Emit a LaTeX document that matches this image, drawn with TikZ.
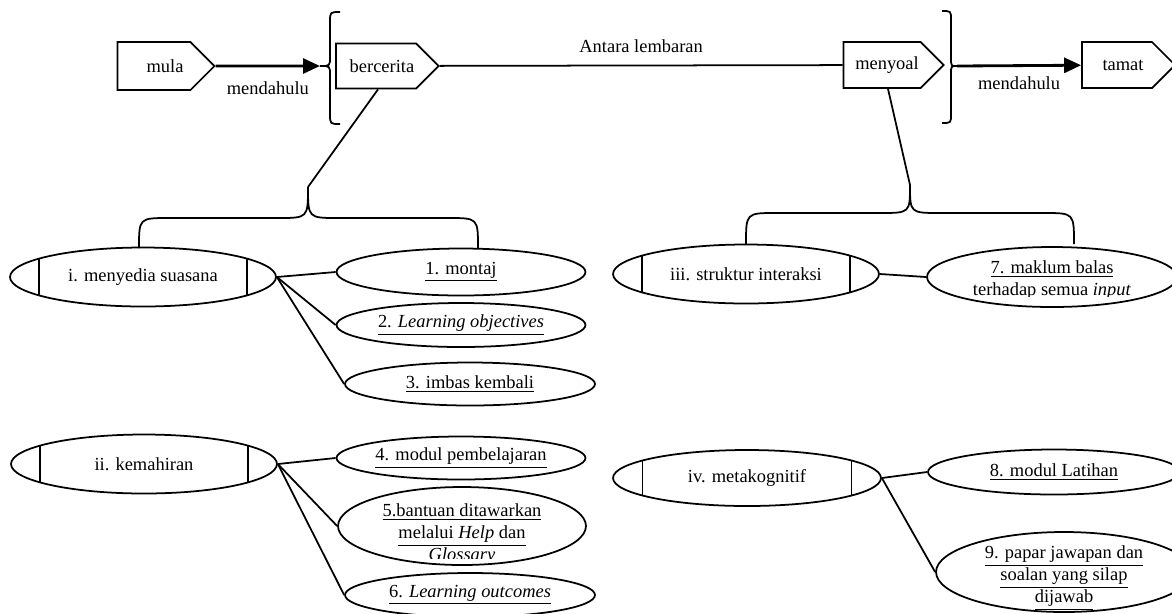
\documentclass[tikz,border=0pt]{standalone}
\usepackage{fontspec}
\setmainfont{Liberation Serif}
\usetikzlibrary{calc,arrows.meta,shapes.geometric,shapes.symbols}
\newcommand{\diafont}{\fontsize{10.5}{12.5}\selectfont}
\tikzset{
  tagbox/.style={signal, signal to=east, signal pointer angle=90, draw, line width=1pt, font=\diafont, inner sep=1pt},
  topicnode/.style={ellipse, draw, line width=1pt, minimum width=5.32cm, minimum height=1.18cm, inner sep=0pt, font=\diafont,
    path picture={\draw[line width=1.1pt] ($(path picture bounding box.south west)!.11!(path picture bounding box.south east)$) -- ($(path picture bounding box.north west)!.11!(path picture bounding box.north east)$)
      ($(path picture bounding box.south west)!.89!(path picture bounding box.south east)$) -- ($(path picture bounding box.north west)!.89!(path picture bounding box.north east)$);}},
  leafnode/.style={ellipse, draw, line width=1pt, minimum width=4.98cm, minimum height=0.88cm, inner sep=0pt, align=center, font=\diafont},
  leaftext/.style={align=center, inner sep=0pt, font=\diafont},
  steplabel/.style={font=\diafont, inner sep=0pt},
  link/.style={line width=1pt},
  bracepath/.style={line width=1pt},
  flowarrow/.style={-{Triangle[length=0.34cm,width=0.30cm]}, line width=1.6pt},
}

\begin{document}
\begin{tikzpicture}[x=0.02cm, y=-0.02cm]
  \useasboundingbox (0,0) rectangle (1172,613);

  % top row
  \node[tagbox, minimum width=1.94cm, minimum height=0.96cm] (mula) at (154,66) {\hspace*{0.44cm}mula};
  \node[tagbox, minimum width=1.78cm, minimum height=0.90cm] (bercerita) at (376,66) {\hspace*{0.24cm}bercerita};
  \node[tagbox, minimum width=1.90cm, minimum height=0.92cm] (menyoal) at (882,65) {\hspace*{0.2cm}menyoal};
  \node[tagbox, minimum width=1.86cm, minimum height=0.92cm] (tamat) at (1117,65) {\hspace*{0.24cm}tamat};

  \coordinate (lbrace) at (320,66);
  \coordinate (rbrace) at (957,66);
  \draw[bracepath] (340,12) .. controls (330,12) .. (330,22) -- (330,57) .. controls (330,66) .. (lbrace) .. controls (330,66) .. (330,75) -- (330,114) .. controls (330,124) .. (340,124);
  \draw[bracepath] (942,11) .. controls (951,11) .. (951,20) -- (951,58) .. controls (951,66) .. (rbrace) .. controls (951,66) .. (951,74) -- (951,114) .. controls (951,123) .. (942,123);

  \draw[flowarrow] (mula) -- node[steplabel, below=0.28cm] (dulu1) {mendahulu} (lbrace);
  \draw[link] (bercerita) -- node[steplabel, above=0.24cm] (antara) {Antara lembaran} (menyoal);
  \draw[flowarrow] (rbrace) -- node[steplabel, below=0.2cm] (dulu2) {mendahulu} (tamat);

  % lower braces
  \coordinate (lbtip) at (308,187);
  \coordinate (rbtip) at (910,185);
  \draw[link] ([xshift=0.04cm]bercerita.south) -- (lbtip);
  \draw[link] ([xshift=0.12cm]menyoal.south) -- (rbtip);
  \draw[bracepath] (139,248) .. controls (139,218) .. (169,218) -- (278,218) .. controls (308,218) .. (lbtip) .. controls (308,218) .. (338,218) -- (448,218) .. controls (478,218) .. (478,248);
  \draw[bracepath] (746,244) .. controls (746,213) .. (776,213) -- (880,213) .. controls (910,213) .. (rbtip) .. controls (910,213) .. (940,213) -- (1044,213) .. controls (1074,213) .. (1074,244);

  % topics
  \node[topicnode] (suasana) at (143,277) {i. menyedia suasana};
  \node[topicnode] (mahir) at (144,464) {ii. kemahiran};
  \node[topicnode] (interaksi) at (746,274) {iii. struktur interaksi};
  \node[topicnode, minimum width=5.36cm, minimum height=1.12cm] (kognitif) at (747,478) {iv. metakognitif};

  % leaves
  \node[leafnode, minimum height=0.94cm] (montaj) at (461,272) {\underline{1. montaj}};
  \node[leafnode] (objektif) at (461,325) {\underline{2. \textit{Learning objectives}}};
  \node[leafnode, minimum width=5cm, minimum height=0.86cm] (imbas) at (470,384) {\underline{3. imbas kembali}};
  \node[leafnode, minimum height=0.86cm] (modul) at (461,458) {\underline{4. modul pembelajaran}};
  \node[leafnode, minimum width=4.96cm, minimum height=1.56cm] (bantuan) at (462,526) {};
  \node[leafnode, minimum width=5cm] (hasil) at (470,595) {\underline{6. \textit{Learning outcomes}}};
  \node[leafnode, minimum width=5cm, minimum height=1.2cm] (maklum) at (1052,277) {};
  \node[leafnode, minimum width=5.04cm, minimum height=0.9cm] (latihan) at (1054,472) {\underline{8. modul Latihan}};
  \node[leafnode, minimum width=5.12cm, minimum height=1.6cm] (jawapan) at (1064,572) {};
  \node[leaftext] (jawapantext) at (1064,578) {\underline{9. papar jawapan dan}\\\underline{soalan yang silap}\\\underline{dijawab}};

  \begin{scope}
    \clip (330,480) rectangle (600,558);
    \node[leaftext] (bantuantext) at (462,536) {\underline{5.bantuan ditawarkan}\\\underline{melalui \textit{Help} dan}\\\underline{\textit{Glossary}}};
  \end{scope}
  \begin{scope}
    \clip (920,240) rectangle (1180,296);
    \node[leaftext] (maklumtext) at (1052,280) {\underline{7. maklum balas}\\terhadap semua \textit{input}};
  \end{scope}

  % connectors
  \draw[link] (suasana.east) -- (montaj.west);
  \draw[link] (suasana.east) -- (objektif.west);
  \draw[link] (suasana.east) -- (imbas.west);
  \draw[link] (mahir.east) -- (modul.west);
  \draw[link] (mahir.east) -- (bantuan.west);
  \draw[link] (mahir.east) -- (hasil.west);
  \draw[link] (interaksi.east) -- (maklum.west);
  \draw[link] (kognitif.east) -- (latihan.west);
  \draw[link] (kognitif.east) -- (jawapan.west);
\end{tikzpicture}
\end{document}
